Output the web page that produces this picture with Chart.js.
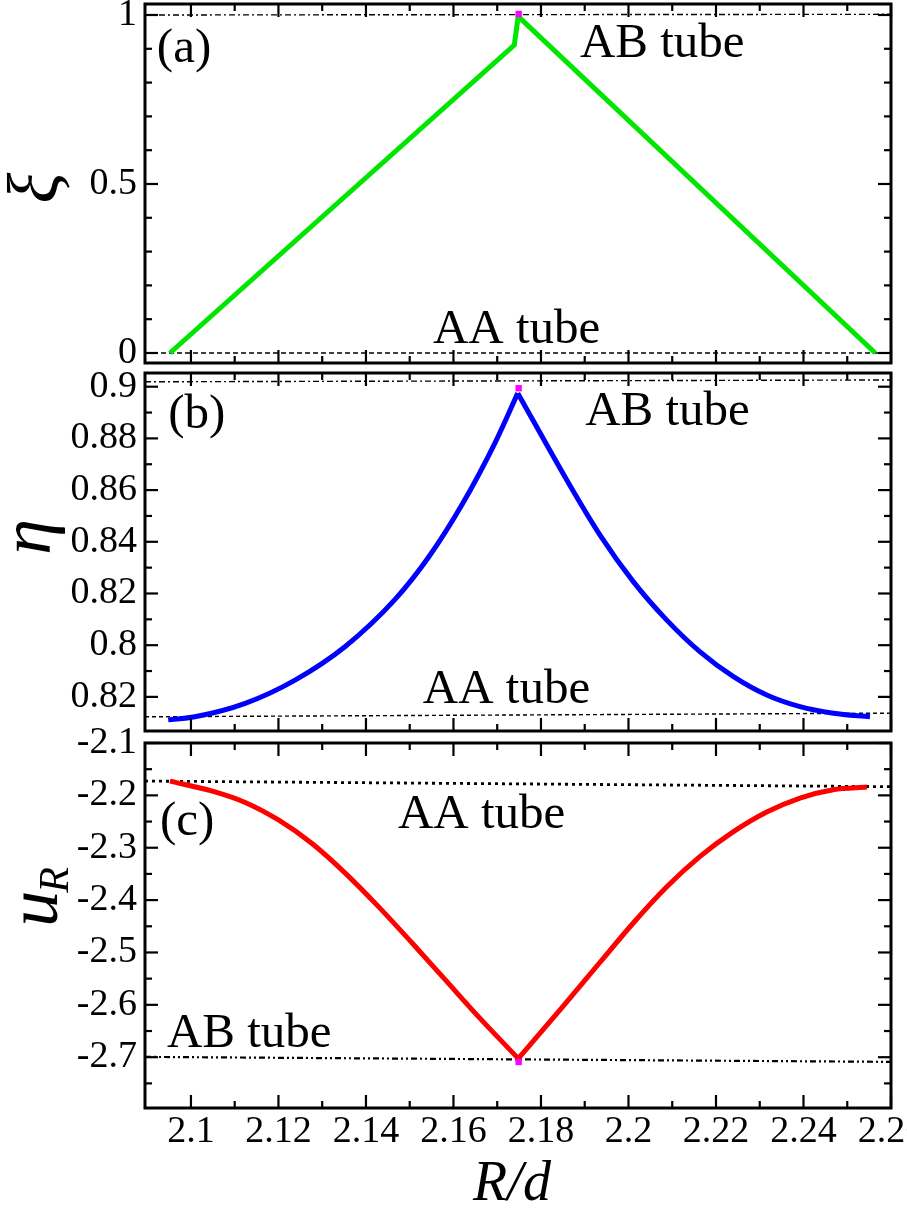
<!DOCTYPE html>
<html>
<head>
<meta charset="utf-8">
<title>xi, eta and u_R against R/d</title>
<script src="https://cdn.jsdelivr.net/npm/chart.js@4.4.1/dist/chart.umd.min.js"></script>
<style>
  html, body { margin: 0; padding: 0; background: #fff; overflow: hidden; }
  #wrap { position: relative; width: 907px; height: 1209px; overflow: hidden; }
  #wrap canvas { position: absolute; left: 0; top: 0; }
</style>
</head>
<body>
<div id="wrap">
  <canvas id="chartA" width="930" height="1209"></canvas>
  <canvas id="chartB" width="930" height="1209"></canvas>
  <canvas id="chartC" width="930" height="1209"></canvas>
</div>
<script>
"use strict";

// x axis (R/d), shared by the three panels
const xMin = 2.0895, xMax = 2.26;
const xTickValues = [2.1, 2.12, 2.14, 2.16, 2.18, 2.2, 2.22, 2.24, 2.26];
const xTickLabels = ['2.1', '2.12', '2.14', '2.16', '2.18', '2.2', '2.22', '2.24', '2.26'];
const xMinorTicks = [2.11, 2.13, 2.15, 2.17, 2.19, 2.21, 2.23, 2.25];
const refX = [xMin, xMax];
const cuspX = 2.1749;

// panel (a) xi
const xiX = [2.0952, 2.1739, 2.1748, 2.2564];
const xiY = [0, 0.911, 0.996, 0];
const xiAB = [1.0, 1.002];
const xiAA = [0, 0];
const xiCusp = 1.003;
const xiTicks = [0, 0.5, 1];
const xiTickLabels = ['0', '0.5', '1'];
const xiMinor = [0.1, 0.2, 0.3, 0.4, 0.6, 0.7, 0.8, 0.9];

// panel (b) eta
const etaLeftX = [2.0948, 2.1009, 2.1124, 2.1238, 2.1352, 2.1466, 2.1543, 2.1619, 2.1695, 2.1747];
const etaLeftY = [0.7711, 0.7723, 0.7775, 0.7865, 0.7994, 0.8176, 0.8340, 0.8542, 0.8783, 0.8975];
const etaRightX = [2.1747, 2.1859, 2.1935, 2.2011, 2.2087, 2.2163, 2.2240, 2.2316, 2.2392, 2.2468, 2.2552];
const etaRightY = [0.8975, 0.8639, 0.8426, 0.8246, 0.8098, 0.7975, 0.7878, 0.7807, 0.7762, 0.7737, 0.7723];
const etaAB = [0.9019, 0.9026];
const etaAA = [0.7723, 0.7737];
const etaCusp = 0.8994;
const etaTicks = [0.78, 0.8, 0.82, 0.84, 0.86, 0.88, 0.9];
const etaTickLabels = ['0.82', '0.8', '0.82', '0.84', '0.86', '0.88', '0.9'];
const etaMinor = [0.79, 0.81, 0.83, 0.85, 0.87, 0.89];

// panel (c) u_R
const uLeftX = [2.0952, 2.1047, 2.1124, 2.1200, 2.1276, 2.1352, 2.1428, 2.1505, 2.1581, 2.1657, 2.1748];
const uLeftY = [-2.1727, -2.1915, -2.2135, -2.2470, -2.2915, -2.3480, -2.4120, -2.4815, -2.5520, -2.6225, -2.7025];
const uRightX = [2.1748, 2.1845, 2.1935, 2.2011, 2.2087, 2.2163, 2.2240, 2.2316, 2.2392, 2.2468, 2.2545];
const uRightY = [-2.7025, -2.6084, -2.5187, -2.4437, -2.3750, -2.3170, -2.2693, -2.2318, -2.2051, -2.1891, -2.1841];
const uAA = [-2.1727, -2.1834];
const uAB = [-2.6994, -2.7089];
const uCusp = -2.709;
const uTicks = [-2.7, -2.6, -2.5, -2.4, -2.3, -2.2, -2.1];
const uTickLabels = ['-2.7', '-2.6', '-2.5', '-2.4', '-2.3', '-2.2', '-2.1'];
const uMinor = [-2.75, -2.65, -2.55, -2.45, -2.35, -2.25, -2.15];

const SERIF = "'Liberation Serif', serif";
Chart.defaults.font.family = SERIF;
Chart.defaults.color = '#000';

function pts(xs, ys) {
    return xs.map((x, i) => ({ x: x, y: ys[i] }));
}

// frame, inward ticks, in-plot texts and axis titles
const panelDecor = {
    id: 'panelDecor',
    afterDatasetsDraw(chart, args, opts) {
        const ctx = chart.ctx, a = chart.chartArea;
        const xs = chart.scales.x, ys = chart.scales.y;
        const line = (x1, y1, x2, y2) => {
            ctx.beginPath(); ctx.moveTo(x1, y1); ctx.lineTo(x2, y2); ctx.stroke();
        };
        ctx.save();
        ctx.strokeStyle = '#000';
        ctx.lineWidth = 2.2;
        const xt = (vals, len) => vals.forEach(v => {
            const p = xs.getPixelForValue(v);
            line(p, a.bottom, p, a.bottom - len);
            line(p, a.top, p, a.top + len);
        });
        const yt = (vals, len) => vals.forEach(v => {
            const p = ys.getPixelForValue(v);
            line(a.left, p, a.left + len, p);
            line(a.right, p, a.right - len, p);
        });
        xt(xTickValues, 13); xt(xMinorTicks, 7);
        yt(opts.yMajor, 13); yt(opts.yMinor, 7);

        ctx.lineWidth = 3;
        ctx.strokeRect(a.left, a.top, a.right - a.left, a.bottom - a.top);

        ctx.fillStyle = '#000';
        ctx.textBaseline = 'alphabetic';
        ctx.textAlign = 'left';
        ctx.font = '49px ' + SERIF;
        opts.texts.forEach(t => {
            ctx.fillText(t.text, xs.getPixelForValue(t.x), ys.getPixelForValue(t.y));
        });

        // rotated y title
        const t = opts.yTitle;
        ctx.save();
        ctx.translate(t.x, t.y);
        ctx.rotate(-Math.PI / 2);
        const mainFont = 'italic ' + t.size + 'px ' + SERIF;
        ctx.font = mainFont;
        if (!t.sub) {
            ctx.textAlign = 'center';
            ctx.fillText(t.text, 0, 0);
        } else {
            const w = ctx.measureText(t.text).width;
            const subFont = 'italic ' + t.subSize + 'px ' + SERIF;
            ctx.font = subFont;
            const ws = ctx.measureText(t.sub).width;
            const start = -(w + ws) / 2;
            ctx.font = mainFont;
            ctx.fillText(t.text, start, 0);
            ctx.font = subFont;
            ctx.fillText(t.sub, start + w - 2, t.subDrop);
        }
        ctx.restore();

        if (opts.xTitle) {
            const xtl = opts.xTitle;
            ctx.font = 'italic ' + xtl.size + 'px ' + SERIF;
            ctx.textAlign = 'center';
            ctx.fillText(xtl.text, xtl.x, xtl.y);
        }
        ctx.restore();
    }
};

function xScale(showLabels, height) {
    return {
        type: 'linear',
        min: xMin,
        max: xMax,
        grid: { display: false, drawTicks: false },
        border: { display: false },
        afterBuildTicks: s => { s.ticks = xTickValues.map(v => ({ value: v })); },
        afterFit: s => { s.height = height; s.paddingLeft = 0; s.paddingRight = 0; },
        ticks: {
            display: showLabels,
            autoSkip: false,
            maxRotation: 0,
            padding: 1,
            color: '#000',
            font: { family: SERIF, size: 38 },
            callback: (v, i) => xTickLabels[i]
        }
    };
}

function yScale(min, max, values, labels) {
    return {
        type: 'linear',
        min: min,
        max: max,
        grid: { display: false, drawTicks: false },
        border: { display: false },
        afterBuildTicks: s => { s.ticks = values.map(v => ({ value: v })); },
        afterFit: s => { s.width = 145; s.paddingTop = 0; s.paddingBottom = 0; },
        ticks: {
            padding: 8,
            color: '#000',
            font: { family: SERIF, size: 38 },
            callback: (v, i) => labels[i]
        }
    };
}

function curve(data, color) {
    return { data: data, borderColor: color, borderWidth: 5, cubicInterpolationMode: 'monotone' };
}
function refLine(ys, dash, width) {
    return { data: pts(refX, ys), borderColor: '#000', borderWidth: width, borderDash: dash };
}
function cuspMark(y) {
    return {
        data: pts([cuspX], [y]), showLine: false, pointStyle: 'rect',
        pointRadius: 4.5, backgroundColor: '#ff00ff', borderWidth: 0
    };
}

function makePanel(id, padTop, padBottom, xHeight, showX, yCfg, datasets, decor) {
    return new Chart(document.getElementById(id), {
        type: 'scatter',
        data: { datasets: datasets },
        options: {
            responsive: false,
            animation: false,
            devicePixelRatio: 1,
            showLine: true,
            layout: { autoPadding: false, padding: { left: 0, right: 39, top: padTop, bottom: padBottom } },
            elements: { point: { radius: 0, hoverRadius: 0 }, line: { tension: 0, fill: false } },
            plugins: { legend: { display: false }, tooltip: { enabled: false }, panelDecor: decor },
            events: [],
            scales: { x: xScale(showX, xHeight), y: yCfg }
        },
        plugins: [panelDecor]
    });
}

// (a)
makePanel('chartA', 4, 846, 0, false,
    yScale(-0.0296, 1.0325, xiTicks, xiTickLabels),
    [
        cuspMark(xiCusp),
        { data: pts(xiX, xiY), borderColor: '#00e600', borderWidth: 5 },
        refLine(xiAB, [6, 3, 2, 3], 1.4),
        refLine(xiAA, [5, 3], 1.4)
    ],
    {
        yMajor: xiTicks, yMinor: xiMinor,
        texts: [
            { text: '(a)', x: 2.0922, y: 0.861 },
            { text: 'AB tube', x: 2.1889, y: 0.876 },
            { text: 'AA tube', x: 2.1553, y: 0.030 }
        ],
        yTitle: { text: 'ξ', x: 58, y: 188, size: 72 }
    });

// (b)
makePanel('chartB', 373, 478, 0, false,
    yScale(0.7668, 0.9053, etaTicks, etaTickLabels),
    [
        cuspMark(etaCusp),
        curve(pts(etaLeftX, etaLeftY), '#0000ff'),
        curve(pts(etaRightX, etaRightY), '#0000ff'),
        refLine(etaAB, [6, 3, 2, 3], 1.4),
        refLine(etaAA, [4, 3], 1.4)
    ],
    {
        yMajor: etaTicks, yMinor: etaMinor,
        texts: [
            { text: '(b)', x: 2.0948, y: 0.884 },
            { text: 'AB tube', x: 2.1901, y: 0.8852 },
            { text: 'AA tube', x: 2.1530, y: 0.7775 }
        ],
        yTitle: { text: 'η', x: 50, y: 537, size: 72 }
    });

// (c)
makePanel('chartC', 743, 0, 101, true,
    yScale(-2.797, -2.1, uTicks, uTickLabels),
    [
        cuspMark(uCusp),
        curve(pts(uLeftX, uLeftY), '#ff0000'),
        curve(pts(uRightX, uRightY), '#ff0000'),
        refLine(uAA, [3, 4], 2.8),
        refLine(uAB, [6, 3, 2, 3, 2, 3], 2.2)
    ],
    {
        yMajor: uTicks, yMinor: uMinor,
        texts: [
            { text: '(c)', x: 2.0929, y: -2.2763 },
            { text: 'AA tube', x: 2.1473, y: -2.2617 },
            { text: 'AB tube', x: 2.0945, y: -2.6803 }
        ],
        yTitle: { text: 'u', sub: 'R', x: 57, y: 896, size: 72, subSize: 42, subDrop: 11 },
        xTitle: { text: 'R/d', x: 512, y: 1200, size: 56 }
    });
</script>
</body>
</html>
